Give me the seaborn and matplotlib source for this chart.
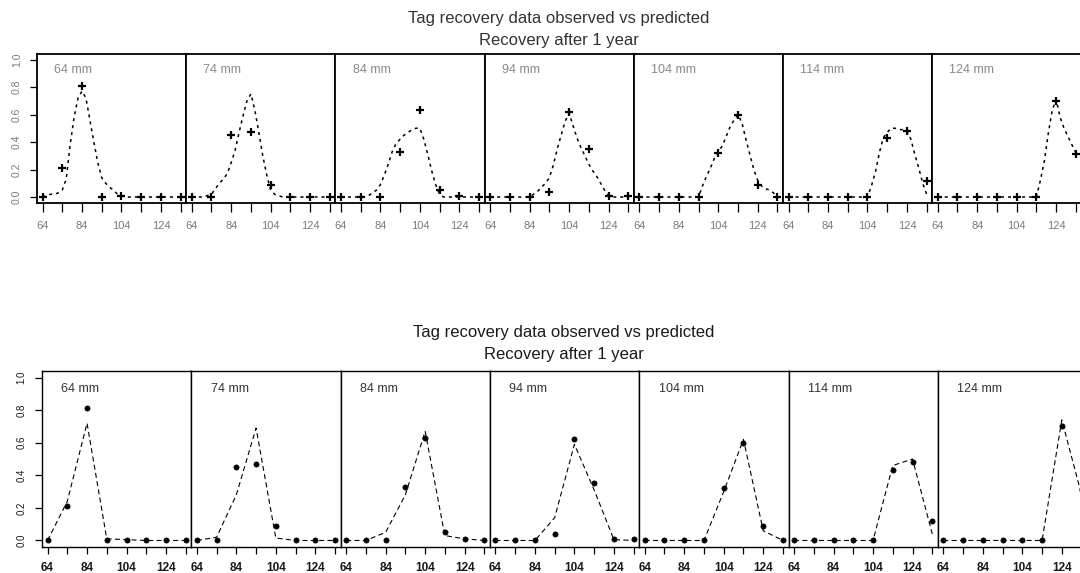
import matplotlib
matplotlib.use("Agg")
import matplotlib.pyplot as plt
import seaborn as sns

sns.set_theme(style="white")
plt.rcParams['font.family'] = ['Liberation Sans', 'DejaVu Sans']

# release size of each panel and the size bins of recaptures
release_sizes = [64, 74, 84, 94, 104, 114, 124]
size_bins = [64, 74, 84, 94, 104, 114, 124, 134]
fine_bins = list(range(64, 135, 2))
tick_labels = ['64', '', '84', '', '104', '', '124', '']

# observed proportions (both charts)
obs_64 = [0.0, 0.21, 0.81, 0.0, 0.005, 0.0, 0.0, 0.0]
obs_74 = [0.0, 0.0, 0.45, 0.47, 0.09, 0.0, 0.0, 0.0]
obs_84 = [0.0, 0.0, 0.0, 0.33, 0.63, 0.05, 0.01, 0.0]
obs_94 = [0.0, 0.0, 0.0, 0.04, 0.62, 0.35, 0.01, 0.01]
obs_104 = [0.0, 0.0, 0.0, 0.0, 0.32, 0.60, 0.09, 0.0]
obs_114 = [0.0, 0.0, 0.0, 0.0, 0.0, 0.43, 0.48, 0.12]
obs_124 = [0.0, 0.0, 0.0, 0.0, 0.0, 0.0, 0.70, 0.31]

# predicted, top chart (2 mm steps)
fit_64 = [0.0, 0.01, 0.02, 0.02, 0.03, 0.05, 0.13, 0.38, 0.58, 0.72, 0.77, 0.72,
          0.56, 0.40, 0.25, 0.14, 0.10, 0.07, 0.05, 0.02, 0.01] + [0.0] * 15
fit_74 = [0.0, 0.0, 0.0, 0.0, 0.01, 0.02, 0.06, 0.10, 0.13, 0.17, 0.25, 0.34,
          0.47, 0.59, 0.70, 0.75, 0.63, 0.47, 0.30, 0.16, 0.05, 0.02, 0.01] + [0.0] * 13
fit_84 = [0.0] * 7 + [0.01, 0.03, 0.05, 0.09, 0.16, 0.24, 0.33, 0.39, 0.42, 0.45,
                      0.47, 0.49, 0.50, 0.50, 0.42, 0.31, 0.19, 0.09, 0.02] + [0.0] * 10
fit_94 = [0.0] * 11 + [0.02, 0.04, 0.07, 0.10, 0.14, 0.23, 0.35, 0.45, 0.55, 0.61,
                       0.52, 0.43, 0.36, 0.30, 0.24, 0.19, 0.15, 0.10, 0.05, 0.01] + [0.0] * 5
fit_104 = [0.0] * 16 + [0.08, 0.15, 0.21, 0.28, 0.33, 0.37, 0.44, 0.51, 0.56, 0.60,
                        0.54, 0.42, 0.31, 0.20, 0.12, 0.08, 0.06, 0.05, 0.03, 0.0]
fit_114 = [0.0] * 21 + [0.08, 0.18, 0.32, 0.43, 0.47, 0.50, 0.50, 0.49, 0.49, 0.48,
                        0.42, 0.31, 0.21, 0.10, 0.02]
fit_124 = [0.0] * 26 + [0.12, 0.26, 0.46, 0.63, 0.71, 0.58, 0.50, 0.44, 0.38, 0.32]

# predicted, bottom chart (10 mm bins)
pred_64 = [0.0, 0.24, 0.72, 0.01, 0.005, 0.0, 0.0, 0.0]
pred_74 = [0.0, 0.02, 0.28, 0.69, 0.015, 0.0, 0.0, 0.0]
pred_84 = [0.0, 0.0, 0.05, 0.28, 0.67, 0.03, 0.01, 0.0]
pred_94 = [0.0, 0.0, 0.0, 0.14, 0.59, 0.31, 0.005, 0.0]
pred_104 = [0.0, 0.0, 0.0, 0.0, 0.30, 0.62, 0.06, 0.0]
pred_114 = [0.0, 0.0, 0.0, 0.0, 0.0, 0.46, 0.50, 0.04]
pred_124 = [0.0, 0.0, 0.0, 0.0, 0.0, 0.0, 0.74, 0.28]

observed = [obs_64, obs_74, obs_84, obs_94, obs_104, obs_114, obs_124]
fits_top = [fit_64, fit_74, fit_84, fit_94, fit_104, fit_114, fit_124]
fits_bottom = [pred_64, pred_74, pred_84, pred_94, pred_104, pred_114, pred_124]

W, H = 1080, 573
fig = plt.figure(figsize=(W / 100, H / 100), dpi=100)
fig.patch.set_facecolor('white')


def px_rect(x0, top, w, h):
    return [x0 / W, 1 - (top + h) / H, w / W, h / H]


def draw_block(left, top, pw, ph, line_x, fits, smooth):
    if smooth:
        txt_col, lab_col = '#7a7a7a', '#8a8a8a'
        spine_w, dash, lw = 1.3, (0, (2.0, 2.6)), 1.1
    else:
        txt_col, lab_col = '#1a1a1a', '#333333'
        spine_w, dash, lw = 1.0, (0, (4.5, 3.0)), 0.8
    for i, size in enumerate(release_sizes):
        ax = fig.add_axes(px_rect(left + i * pw, top, pw, ph))
        ax.set_facecolor('white')
        sns.lineplot(x=line_x, y=fits[i], ax=ax, color='black',
                     linestyle=dash, linewidth=lw)
        if smooth:
            sns.scatterplot(x=size_bins, y=observed[i], ax=ax, marker='+',
                            color='black', s=28, linewidth=1.6, zorder=3)
        else:
            sns.scatterplot(x=size_bins, y=observed[i], ax=ax, marker='o',
                            color='black', edgecolor='black', s=14,
                            linewidth=0.5, zorder=3)
        ax.set_xlim(61.2, 136.8)
        ax.set_ylim(-0.04, 1.04)
        ax.set_xlabel('')
        ax.set_ylabel('')
        for sp in ax.spines.values():
            sp.set_color('black')
            sp.set_linewidth(spine_w)
        ax.set_xticks(size_bins)
        ax.set_xticklabels(tick_labels)
        ax.tick_params(axis='x', bottom=True, direction='out',
                       length=5 if not smooth else 6.5,
                       width=0.9, color='black', pad=6 if not smooth else 7,
                       labelsize=8 if smooth else 8.5, labelcolor=txt_col)
        if not smooth:
            for t in ax.get_xticklabels():
                t.set_fontweight('bold')
        if i == 0:
            ax.set_yticks([0.0, 0.2, 0.4, 0.6, 0.8, 1.0])
            ax.set_yticklabels(['0.0', '0.2', '0.4', '0.6', '0.8', '1.0'],
                               rotation=90, va='center')
            ax.tick_params(axis='y', left=True, direction='out', length=5,
                           width=0.9, color='black',
                           pad=6 if not smooth else 6,
                           labelsize=7 if not smooth else 7.5,
                           labelcolor=txt_col)
        else:
            ax.set_yticks([])
        ax.text(0.13 if not smooth else 0.115, 0.895, f'{size} mm',
                transform=ax.transAxes, fontsize=9, color=lab_col,
                ha='left', va='center')


draw_block(37, 54, 149.2, 148.5, fine_bins, fits_top, True)
draw_block(42, 371, 149.3, 176, size_bins, fits_bottom, False)

fig.text(559 / W, 1 - 18 / H, 'Tag recovery data observed vs predicted',
         ha='center', va='center', fontsize=12, color='#333333')
fig.text(559 / W, 1 - 40 / H, 'Recovery after 1 year',
         ha='center', va='center', fontsize=12, color='#333333')
fig.text(564 / W, 1 - 333 / H, 'Tag recovery data observed vs predicted',
         ha='center', va='center', fontsize=12, color='#1a1a1a')
fig.text(564 / W, 1 - 355 / H, 'Recovery after 1 year',
         ha='center', va='center', fontsize=12, color='#1a1a1a')

fig.savefig('out.png', dpi=100, facecolor='white')
